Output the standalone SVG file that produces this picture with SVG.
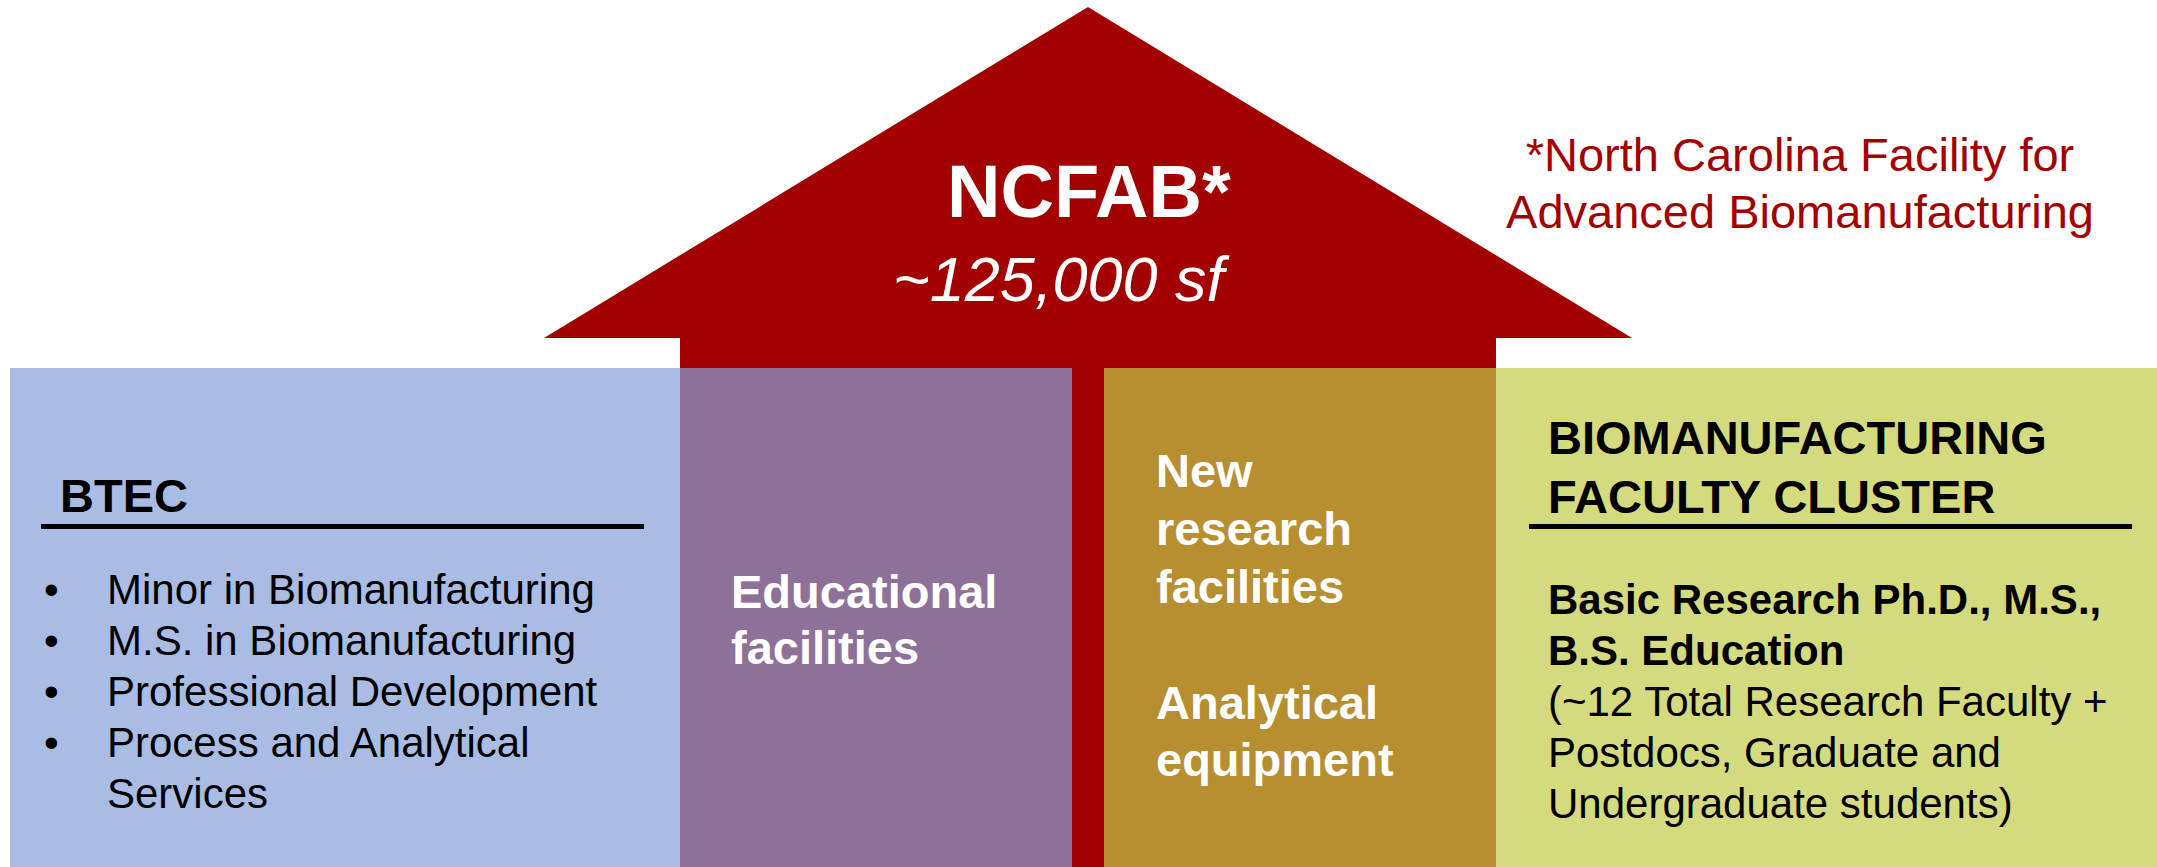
<svg xmlns="http://www.w3.org/2000/svg" width="2157" height="867" viewBox="0 0 2157 867">
<style>
text{font-family:"Liberation Sans",Arial,Helvetica,sans-serif}
.wb{fill:#FFFFFF;font-weight:bold;font-size:47px}
.bt{fill:#000000;font-weight:bold;font-size:47px}
.body{fill:#000000;font-size:42px}
.bodyb{fill:#000000;font-size:42px;font-weight:bold}
.red{fill:#A30000;font-size:47px}
.rule{stroke:#000000;stroke-width:5}
</style>
<rect width="2157" height="867" fill="#FFFFFF"/>
<g id="ncfab">
<polygon points="1088,7 1632,338 1496,338 1496,867 680,867 680,338 544,338" fill="#A30000"/>
<text x="947" y="217" fill="#FFFFFF" font-weight="bold" font-size="74">NCFAB*</text>
<text x="893" y="301" fill="#FFFFFF" font-style="italic" font-size="63">~125,000 sf</text>
</g>
<g id="note">
<text class="red" x="1800" y="171" text-anchor="middle">*North Carolina Facility for</text>
<text class="red" x="1800" y="228" text-anchor="middle">Advanced Biomanufacturing</text>
</g>
<g id="btec">
<rect x="10" y="368" width="670" height="499" fill="#A9BCE4"/>
<text class="bt" x="60" y="512">BTEC</text>
<line class="rule" x1="41" y1="526.5" x2="644" y2="526.5"/>
<text class="body" x="44" y="604">•</text>
<text class="body" x="107" y="604">Minor in Biomanufacturing</text>
<text class="body" x="44" y="655">•</text>
<text class="body" x="107" y="655">M.S. in Biomanufacturing</text>
<text class="body" x="44" y="706">•</text>
<text class="body" x="107" y="706">Professional Development</text>
<text class="body" x="44" y="757">•</text>
<text class="body" x="107" y="757">Process and Analytical</text>
<text class="body" x="107" y="808">Services</text>
</g>
<g id="educational">
<rect x="680" y="368" width="392" height="499" fill="#8E7198"/>
<text class="wb" x="731" y="608">Educational</text>
<text class="wb" x="731" y="664">facilities</text>
</g>
<g id="research">
<rect x="1104" y="368" width="392" height="499" fill="#B78E30"/>
<text class="wb" x="1156" y="487">New</text>
<text class="wb" x="1156" y="545">research</text>
<text class="wb" x="1156" y="603">facilities</text>
<text class="wb" x="1156" y="719">Analytical</text>
<text class="wb" x="1156" y="776">equipment</text>
</g>
<g id="cluster">
<rect x="1496" y="368" width="661" height="499" fill="#D3DB7E"/>
<text class="bt" x="1548" y="454">BIOMANUFACTURING</text>
<text class="bt" x="1548" y="513">FACULTY CLUSTER</text>
<line class="rule" x1="1529" y1="526.5" x2="2132" y2="526.5"/>
<text class="bodyb" x="1548" y="614">Basic Research Ph.D., M.S.,</text>
<text class="bodyb" x="1548" y="665">B.S. Education</text>
<text class="body" x="1548" y="716">(~12 Total Research Faculty +</text>
<text class="body" x="1548" y="767">Postdocs, Graduate and</text>
<text class="body" x="1548" y="818">Undergraduate students)</text>
</g>
<g id="connectors"/>
</svg>
